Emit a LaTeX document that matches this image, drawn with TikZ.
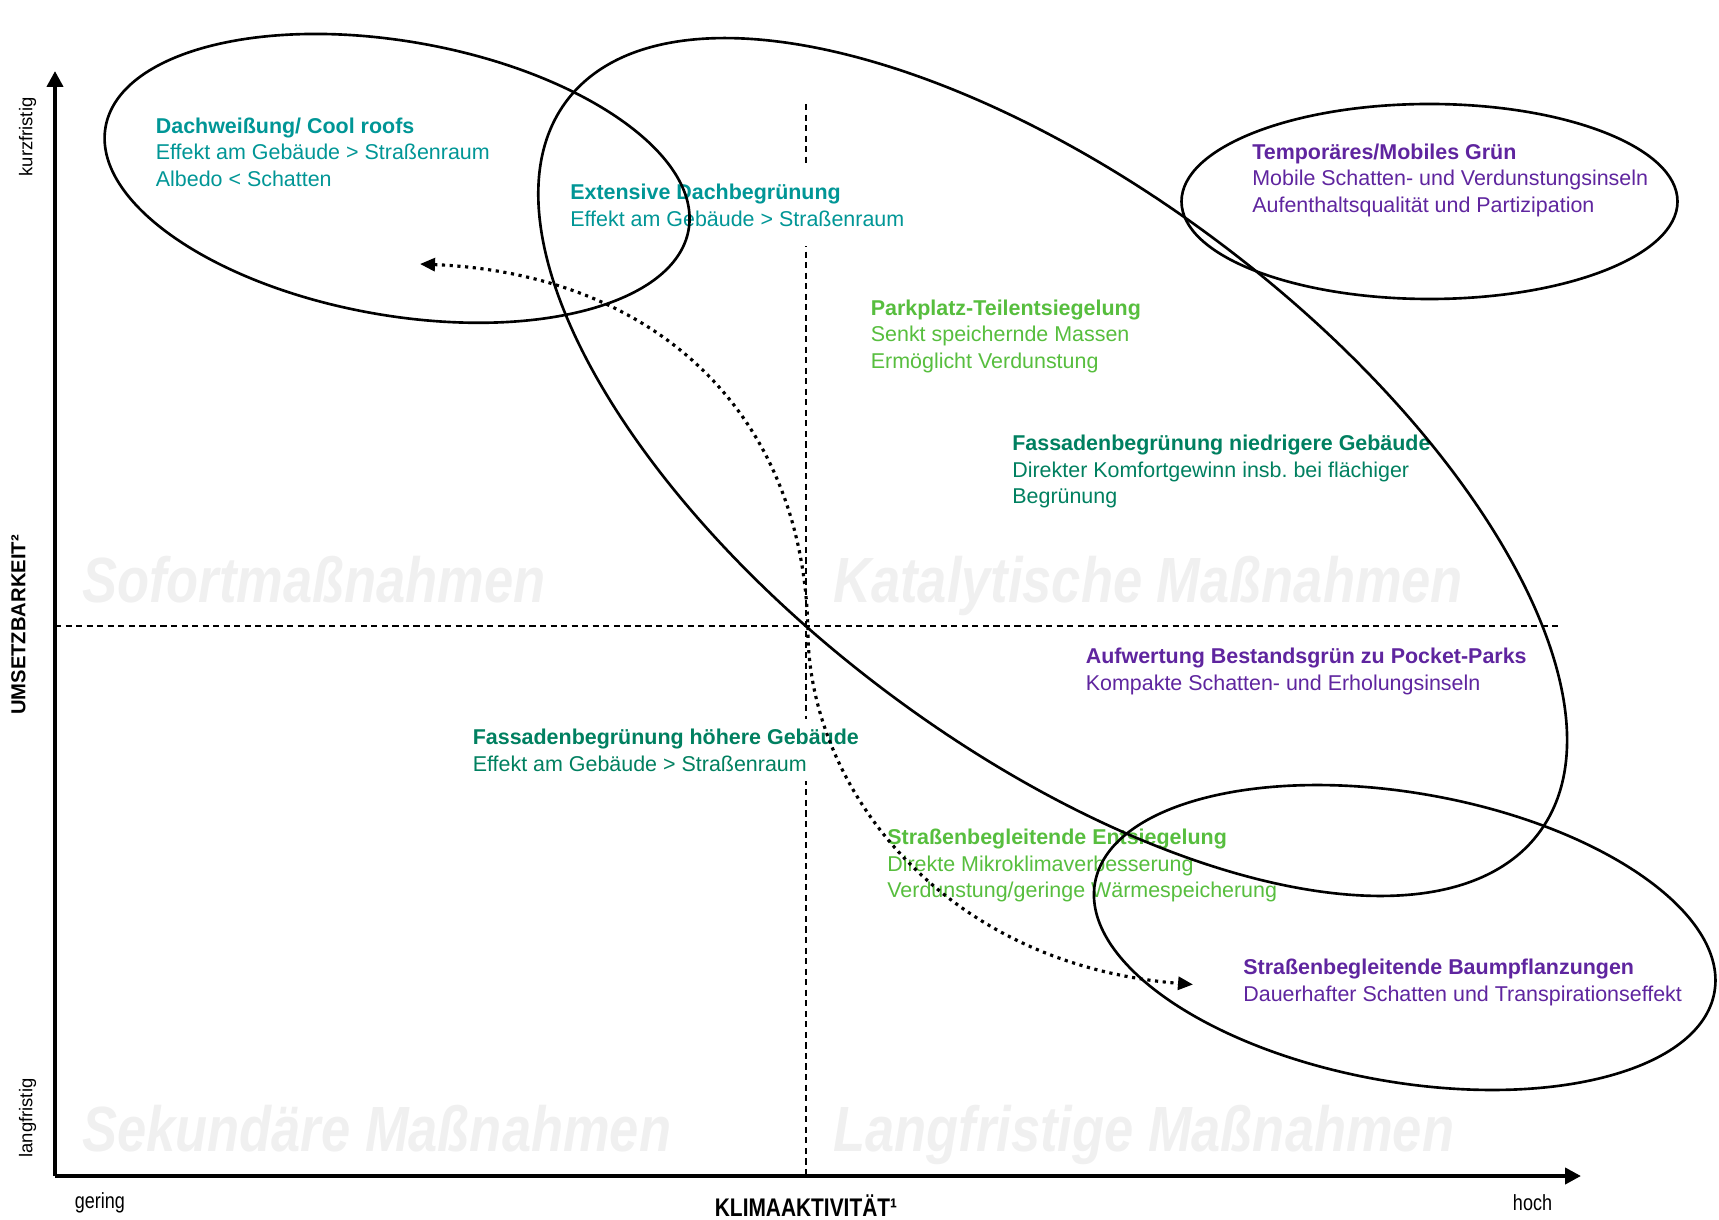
\documentclass[tikz,border=0pt]{standalone}
\usepackage{fontspec}
\setmainfont{Liberation Sans}
\newfontfamily\narrowfont[FakeStretch=0.82]{Liberation Sans}
\usepackage{tikz}
\usetikzlibrary{arrows.meta}
\usepackage{xcolor}

\definecolor{tealtxt}{RGB}{0,150,150}
\definecolor{darkgreen}{RGB}{0,128,96}
\definecolor{lightgreen}{RGB}{87,190,62}
\definecolor{violet}{RGB}{95,37,159}
\definecolor{wmgray}{RGB}{240,240,240}

\begin{document}
\begin{tikzpicture}[
  every node/.style={font=\fontsize{12.2}{15}\selectfont},
  lbl/.style={anchor=north west, align=left, inner sep=0.2cm, fill=white},
  wm/.style={anchor=base west, inner sep=0pt, text=wmgray,
    font=\narrowfont\bfseries\itshape\fontsize{36.4}{42}\selectfont},
  axisline/.style={line width=2.3pt, -{Triangle[length=0.32cm, width=0.32cm]}},
  quadline/.style={line width=0.8pt, dash pattern=on 3.5pt off 2.5pt},
  zone/.style={line width=1.5pt},
  transfer/.style={line width=1.8pt, dash pattern=on 1.8pt off 2.6pt,
    {Triangle[length=0.3cm, width=0.26cm]}-{Triangle[length=0.3cm, width=0.26cm]}},
]
\useasboundingbox (-1.1,-0.86) rectangle (33.28,23.52);

% ---- Quadrant names (background) ----
\foreach \n/\x/\y/\txt in {sofort/0.54/11.48/Sofortmaßnahmen,
    katal/15.56/11.48/Katalytische Maßnahmen,
    sekund/0.54/0.50/Sekundäre Maßnahmen,
    langfr/15.56/0.50/Langfristige Maßnahmen}
  \node[wm] (\n) at (\x,\y) {\txt};

% ---- Quadrant borders ----
\coordinate (origin) at (0,0);
\coordinate (midtop) at (15.02,21.44);
\coordinate (midbot) at (15.02,0);
\coordinate (midleft) at (0,11.0);
\coordinate (midright) at (30.14,11.0);
\draw[quadline] (midtop) -- (midbot);
\draw[quadline] (midleft) -- (midright);

% ---- Measures ----
\node[lbl, text=tealtxt] (dachweiss) at (1.81,21.37)
  {\textbf{Dachweißung/ Cool roofs}\\Effekt am Gebäude > Straßenraum\\Albedo < Schatten};
\node[lbl, text=tealtxt, inner ysep=0.4cm] (extdach) at (10.10,20.24)
  {\textbf{Extensive Dachbegrünung}\\Effekt am Gebäude > Straßenraum};
\node[lbl, text=violet] (mobgruen) at (23.74,20.85)
  {\textbf{Temporäres/Mobiles Grün}\\Mobile Schatten- und Verdunstungsinseln\\Aufenthaltsqualität und Partizipation};
\node[lbl, text=lightgreen] (parkplatz) at (16.11,17.73)
  {\textbf{Parkplatz-Teilentsiegelung}\\Senkt speichernde Massen\\Ermöglicht Verdunstung};
\node[lbl, text=darkgreen] (fassniedrig) at (18.94,15.02)
  {\textbf{Fassadenbegrünung niedrigere Gebäude}\\Direkter Komfortgewinn insb.\ bei flächiger\\Begrünung};
\node[lbl, text=violet] (pocket) at (20.41,10.76)
  {\textbf{Aufwertung Bestandsgrün zu Pocket-Parks}\\Kompakte Schatten- und Erholungsinseln};
\node[lbl, text=darkgreen] (fasshoch) at (8.15,9.14)
  {\textbf{Fassadenbegrünung höhere Gebäude}\\Effekt am Gebäude > Straßenraum};
\node[lbl, text=lightgreen] (entsiegel) at (16.44,7.14)
  {\textbf{Straßenbegleitende Entsiegelung}\\Direkte Mikroklimaverbesserung\\Verdunstung/geringe Wärmespeicherung};
\node[lbl, text=violet] (baum) at (23.56,4.54)
  {\textbf{Straßenbegleitende Baumpflanzungen}\\Dauerhafter Schatten und Transpirationseffekt};

% ---- Groups ----
\coordinate (roofc) at (6.84,19.95);
\coordinate (diagc) at (19.95,14.18);
\coordinate (mobc) at (27.49,19.49);
\coordinate (treec) at (26.99,4.77);
\draw[zone, rotate around={-10:(roofc)}] (roofc) ellipse [x radius=5.92, y radius=2.74];
\draw[zone, rotate around={-37:(diagc)}] (diagc) ellipse [x radius=12.17, y radius=5.59];
\draw[zone] (mobc) ellipse [x radius=4.96, y radius=1.95];
\draw[zone, rotate around={-10:(treec)}] (treec) ellipse [x radius=6.29, y radius=2.89];

% ---- Short term <-> long term ----
\coordinate (coolEnd) at (7.30,18.24);
\coordinate (cross) at (15.06,10.80);
\coordinate (treeEnd) at (22.76,3.83);
\draw[transfer] (coolEnd) .. controls (12.06,18.04) and (15.02,15.19) .. (cross)
  .. controls (15.13,7.73) and (17.76,4.23) .. (treeEnd);

% ---- Axes ----
\coordinate (ytop) at (0,22.10);
\coordinate (xend) at (30.52,0);
\draw[axisline] (origin) -- (ytop);
\draw[axisline] (origin) -- (xend);

\node[rotate=90, font=\fontsize{10.5}{12}\selectfont] (kurz) at (-0.55,20.78) {kurzfristig};
\node[rotate=90, font=\fontsize{10.5}{12}\selectfont] (lang) at (-0.55,1.16) {langfristig};
\node[rotate=90, font=\bfseries\fontsize{11.5}{13}\selectfont] (ylabel) at (-0.73,11.02) {UMSETZBARKEIT²};
\node[anchor=west, inner sep=0pt, font=\narrowfont\fontsize{12.5}{14}\selectfont] (gering) at (0.39,-0.53) {gering};
\node[inner sep=0pt, font=\narrowfont\bfseries\fontsize{14.5}{16}\selectfont] (xlabel) at (15.02,-0.60) {KLIMAAKTIVITÄT¹};
\node[font=\narrowfont\fontsize{12.5}{14}\selectfont] (hoch) at (29.55,-0.53) {hoch};

\end{tikzpicture}
\end{document}
